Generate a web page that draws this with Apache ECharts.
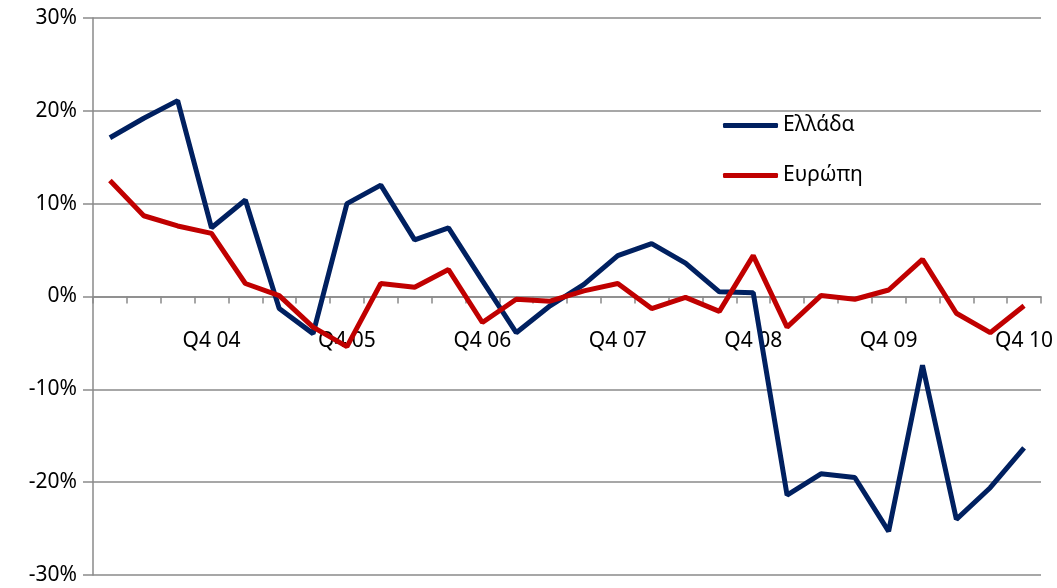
<!DOCTYPE html>
<html lang="el">
<head>
    <meta charset="UTF-8">
    <title>Ελλάδα - Ευρώπη</title>
    <script src="https://cdn.jsdelivr.net/npm/echarts@6/dist/echarts.min.js"></script>
    <style>
        html, body { margin: 0; padding: 0; background: #fff; }
        #main { width: 1057px; height: 588px; }
    </style>
</head>
<body>
<div id="main"></div>
<script>
    // τρίμηνα Q1 04 .. Q4 10
    var quarters = [];
    var years = ['04', '05', '06', '07', '08', '09', '10'];
    for (var y = 0; y < years.length; y++) {
        for (var q = 1; q <= 4; q++) {
            quarters.push('Q' + q + ' ' + years[y]);
        }
    }

    var greece = [17.1, 19.2, 21.1, 7.4, 10.4, -1.3, -4.0, 10.0, 12.0, 6.1, 7.4, 1.7, -3.9, -1.0,
        1.3, 4.4, 5.7, 3.6, 0.5, 0.4, -21.4, -19.1, -19.5, -25.3, -7.4, -24.0, -20.6, -16.3];
    var europe = [12.5, 8.7, 7.6, 6.8, 1.4, 0.1, -3.3, -5.4, 1.4, 1.0, 2.9, -2.8, -0.3, -0.5,
        0.6, 1.4, -1.3, -0.1, -1.6, 4.4, -3.3, 0.1, -0.3, 0.7, 4.0, -1.8, -3.9, -1.0];

    var font = 'Noto Sans';
    var gridGrey = '#8a8a8a';

    var myChart = echarts.init(document.getElementById('main'));

    // grid: 93..1041 horizontally, 18..575 vertically -> 0% sits at y 296.5
    var gridTop = 18, gridBottom = 13;
    var zeroFromBottom = (588 - gridTop - gridBottom) / 2;

    var option = {
        animation: false,
        grid: { left: 93, right: 16, top: gridTop, bottom: gridBottom, containLabel: false, outerBoundsMode: 'none' },
        legend: {
            orient: 'vertical',
            left: 718,
            top: 110,
            itemWidth: 55,
            itemHeight: 5,
            itemGap: 29,
            icon: 'roundRect',
            textStyle: { fontFamily: font, fontSize: 21, color: '#000', padding: [0, 0, 0, 0] },
            data: ['Ελλάδα', 'Ευρώπη']
        },
        xAxis: [
            {
                type: 'category',
                data: quarters,
                boundaryGap: true,
                axisLine: { onZero: true, lineStyle: { color: gridGrey, width: 1.5 } },
                axisTick: { show: true, interval: 0, length: 7, lineStyle: { color: gridGrey, width: 1.5 } },
                axisLabel: { show: false },
                splitLine: { show: false }
            },
            {
                // labels only, shifted up to the 0% line
                type: 'category',
                data: quarters,
                boundaryGap: true,
                position: 'bottom',
                offset: -zeroFromBottom,
                axisLine: { show: false, onZero: false },
                axisTick: { show: false },
                axisLabel: {
                    interval: function (idx) { return idx % 4 === 3; },
                    margin: 34,
                    fontFamily: font,
                    fontSize: 21,
                    color: '#000'
                },
                splitLine: { show: false }
            }
        ],
        yAxis: {
            type: 'value',
            min: -30,
            max: 30,
            interval: 10,
            axisLine: { show: true, lineStyle: { color: gridGrey, width: 1.5 } },
            axisTick: { show: true, inside: false, length: 10, lineStyle: { color: gridGrey, width: 1.5 } },
            axisLabel: {
                formatter: '{value}%',
                margin: 16,
                fontFamily: font,
                fontSize: 21,
                color: '#000'
            },
            splitLine: { show: true, lineStyle: { color: gridGrey, width: 1.5 } }
        },
        series: [
            {
                name: 'Ελλάδα',
                type: 'line',
                data: greece,
                symbol: 'none',
                lineStyle: { color: '#002060', width: 5 },
                itemStyle: { color: '#002060' }
            },
            {
                name: 'Ευρώπη',
                type: 'line',
                data: europe,
                symbol: 'none',
                lineStyle: { color: '#c00000', width: 5 },
                itemStyle: { color: '#c00000' }
            }
        ]
    };

    myChart.setOption(option);
</script>
</body>
</html>
